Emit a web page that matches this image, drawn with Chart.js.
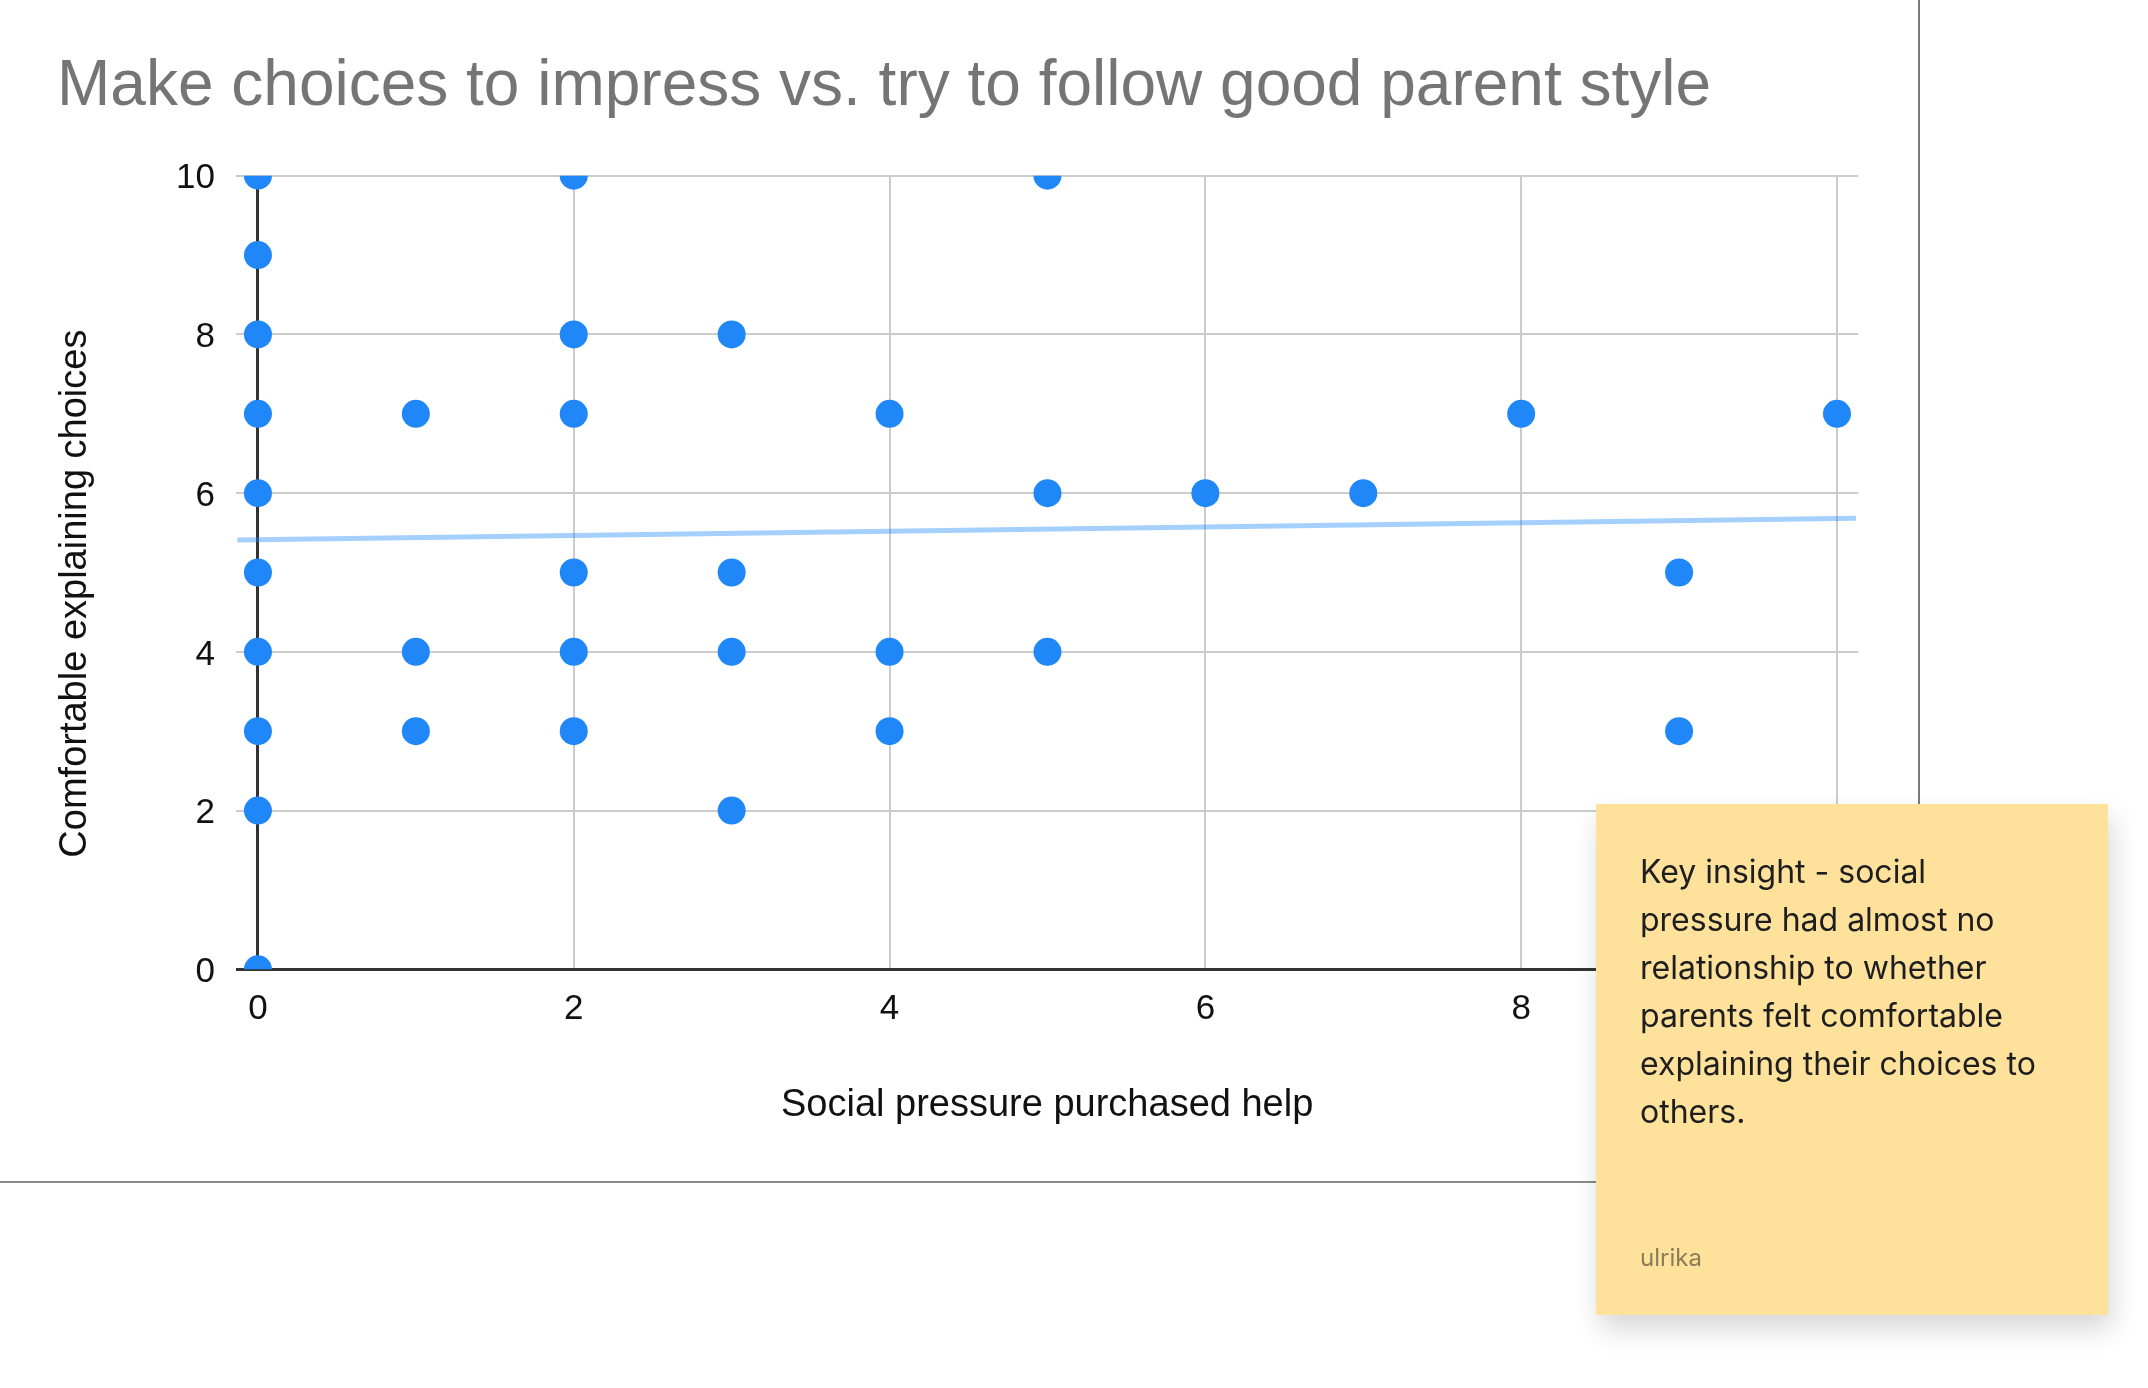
<!DOCTYPE html>
<html>
<head>
<meta charset="utf-8">
<script src="https://cdn.jsdelivr.net/npm/chart.js@4.4.1/dist/chart.umd.min.js"></script>
<style>
  html, body { margin: 0; padding: 0; background: #ffffff; width: 2148px; height: 1388px; overflow: hidden; position: relative; }
  #frame { position: absolute; left: 0; top: 0; width: 1918px; height: 1181px; border-right: 2px solid #7a7a7a; border-bottom: 2px solid #8a8a8a; }
  #chart { position: absolute; left: 0; top: 0; }
  #note { position: absolute; left: 1596px; top: 804px; width: 512px; height: 511px; background: #FEE19A;
          box-shadow: 4px 14px 26px rgba(0,0,0,0.16); box-sizing: border-box; padding: 44px 53px 0 44px;
          font-family: Inter, "Noto Sans", sans-serif; color: #1e1e1e; }
  #note .body { font-size: 32px; line-height: 48px; }
  #note .author { position: absolute; left: 44px; top: 442px; font-size: 24px; line-height: 24px; color: #8a7c58; }
</style>
</head>
<body>
<div id="frame"><canvas id="chart" width="1918" height="1181"></canvas></div>
<div id="note">
  <div class="body">Key insight - social pressure had almost no relationship to whether parents felt comfortable explaining their choices to others.</div>
  <div class="author">ulrika</div>
</div>
<script>
// ---- data ----
const chartTitle = "Make choices to impress vs. try to follow good parent style";
const xAxisTitle = "Social pressure purchased help";
const yAxisTitle = "Comfortable explaining choices";
const socialPressure = [0,0,0,0,0,0,0,0,0,0, 1,1,1, 2,2,2,2,2,2, 3,3,3,3, 4,4,4, 5,5,5, 6, 7, 8, 9,9, 10];
const comfortable    = [10,9,8,7,6,5,4,3,2,0, 7,4,3, 10,8,7,5,4,3, 8,5,4,2, 7,4,3, 10,6,4, 6, 6, 7, 5,3, 7];
const trendX = [-0.13, 10.12];
const trendY = [5.41, 5.683];
const xTicks = [0, 2, 4, 6, 8, 10];
const yTicks = [0, 2, 4, 6, 8, 10];
const xRange = [-0.139, 10.135];
const yRange = [0, 10];

const points = socialPressure.map((x, i) => ({ x: x, y: comfortable[i] }));
const trend = trendX.map((x, i) => ({ x: x, y: trendY[i] }));

const gridColor = (c) => (c.tick && c.tick.value === 0) ? '#333333' : '#cccccc';
const gridWidth = (c) => (c.tick && c.tick.value === 0) ? 3 : 2;
const FONT = '"Liberation Sans", Arial, sans-serif';

new Chart(document.getElementById('chart'), {
  type: 'scatter',
  data: {
    datasets: [
      {
        label: 'Responses',
        data: points,
        backgroundColor: '#1F87F7',
        borderColor: '#1F87F7',
        borderWidth: 0,
        pointRadius: 14,
        pointHoverRadius: 14,
        clip: 0,
        order: 1
      },
      {
        label: 'Trendline',
        type: 'line',
        data: trend,
        borderColor: 'rgba(31,135,247,0.4)',
        borderWidth: 5,
        pointRadius: 0,
        fill: false,
        clip: 0,
        order: 2
      }
    ]
  },
  options: {
    responsive: false,
    devicePixelRatio: 1,
    animation: false,
    layout: { padding: { left: 57, right: 59.7, top: 0, bottom: 0 } },
    plugins: {
      legend: { display: false },
      tooltip: { enabled: false },
      title: {
        display: true,
        text: chartTitle,
        align: 'start',
        color: '#757575',
        font: { family: FONT, size: 64, weight: 'normal', lineHeight: 1.2 },
        padding: { top: 49, bottom: 49.9 }
      }
    },
    scales: {
      x: {
        type: 'linear',
        min: xRange[0],
        max: xRange[1],
        afterBuildTicks: (s) => { s.ticks = xTicks.map(v => ({ value: v })); },
        afterFit: (s) => { s.height = 211.7; },
        border: { display: false },
        grid: { color: gridColor, lineWidth: gridWidth, drawTicks: false },
        ticks: { color: '#111111', padding: 19, maxRotation: 0, autoSkip: false,
                 font: { family: FONT, size: 35 } },
        title: { display: true, text: xAxisTitle, color: '#111111', padding: { top: 0, bottom: 53 },
                 font: { family: FONT, size: 38, lineHeight: 1.2 } }
      },
      y: {
        type: 'linear',
        min: yRange[0],
        max: yRange[1],
        afterBuildTicks: (s) => { s.ticks = yTicks.map(v => ({ value: v })); },
        afterFit: (s) => { s.width = 179; },
        border: { display: false },
        grid: { color: gridColor, lineWidth: gridWidth, drawTicks: false },
        ticks: { color: '#111111', padding: 21, autoSkip: false, labelOffset: 3,
                 font: { family: FONT, size: 35 } },
        title: { display: true, text: yAxisTitle + '    ', color: '#111111', padding: 0,
                 font: { family: FONT, size: 38, lineHeight: 1 } }
      }
    }
  }
});
</script>
</body>
</html>
